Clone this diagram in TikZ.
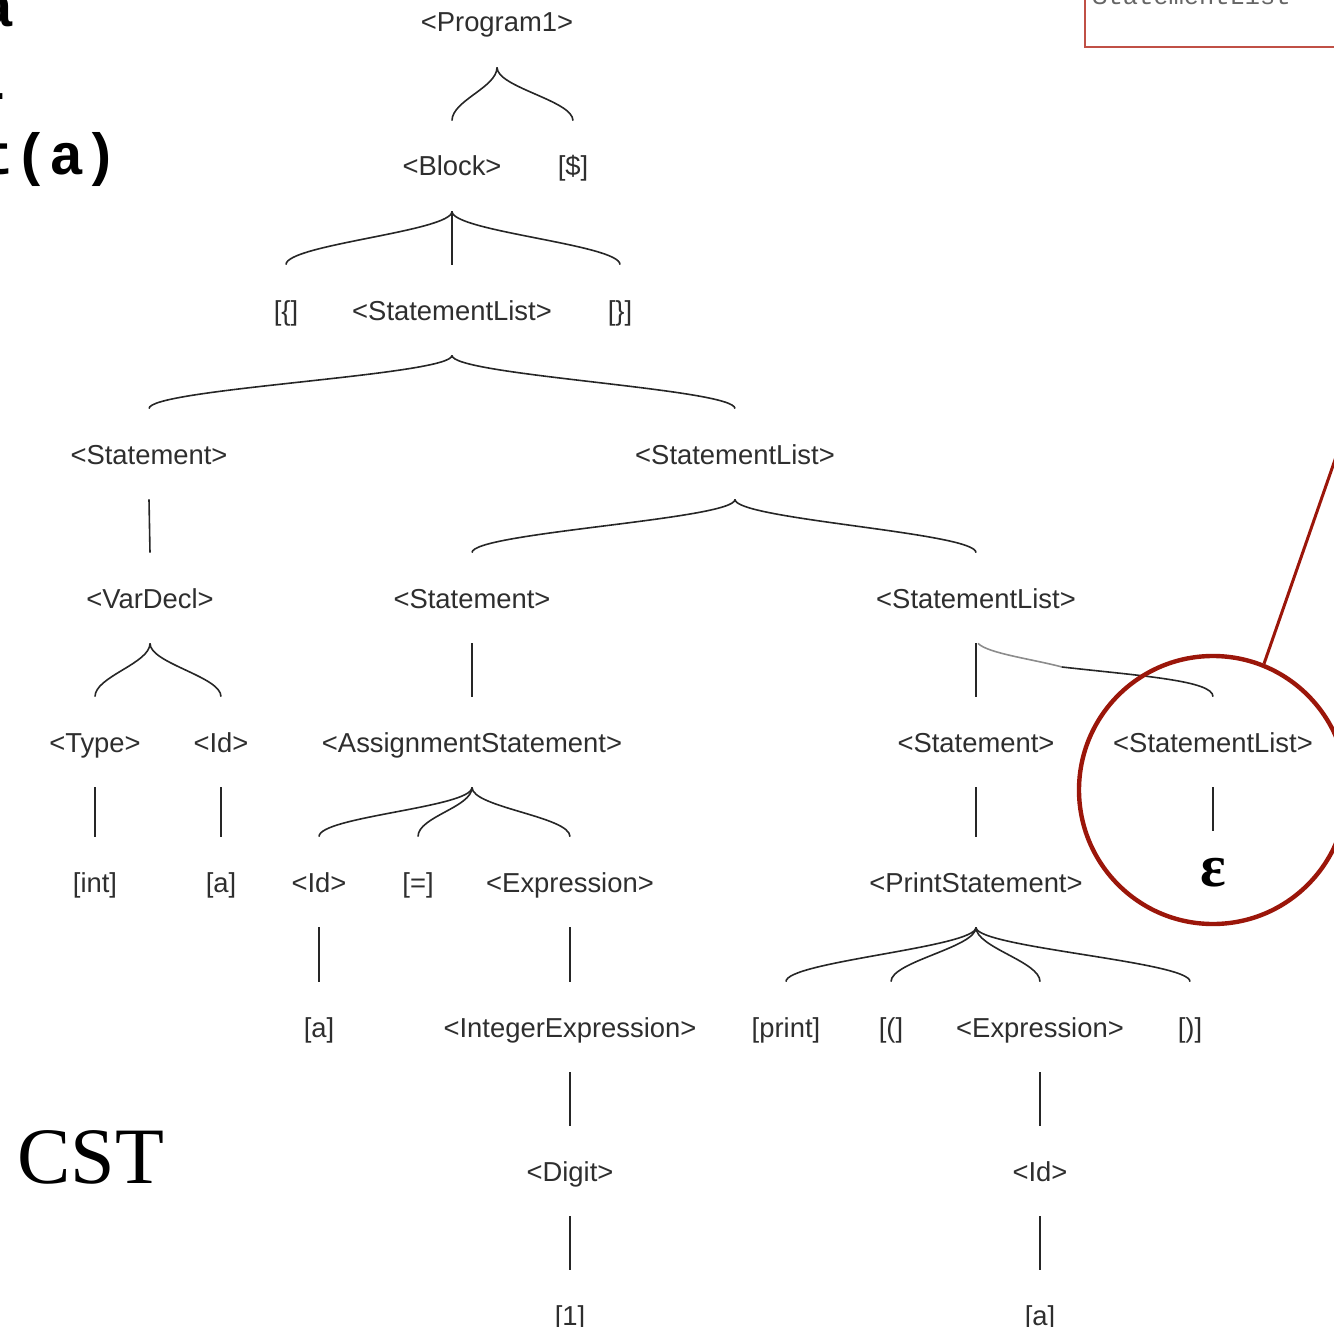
\documentclass[tikz,border=0pt]{standalone}
\usepackage{fontspec}
\setmainfont{Liberation Sans}
\newfontfamily\codefont{Liberation Mono}
\newfontfamily\serifont{Liberation Serif}
\definecolor{hlred}{RGB}{155,22,10}
\definecolor{boxred}{RGB}{192,80,70}
\tikzstyle{nt}=[inner sep=0pt,
                text=black!82,
                font=\fontsize{13.7}{16}\selectfont,
                text height=10pt,
                text depth=0pt,
                minimum height=45pt]
\tikzstyle{cn}=[draw=black!85,
                line width=0.8pt]
\tikzstyle{br}=[to path={.. controls +(0,20) and +(0,-20) .. (\tikztotarget)}]
\tikzstyle{code}=[inner sep=0pt,
                  anchor=base west,
                  font=\codefont\bfseries\fontsize{29}{30}\selectfont]
\tikzstyle{hl}=[shape=circle,
                draw=hlred,
                line width=2.2pt,
                inner sep=0pt,
                minimum size=134pt]

\begin{document}
\begin{tikzpicture}[x=0.5pt,y=-0.5pt]
\useasboundingbox (0,0) rectangle (1334,1327);

% source code (cut off at the left edge)
\node[code] (line1) at (-160,27)  {int a};
\node[code] (line2) at (-169,100) {a = 1};
\node[code] (line3) at (-160,175) {print(a)};

% note box (cut off at the top right)
\draw[boxred, line width=1pt] (1085,-20) rectangle (1360,47);
\node[anchor=base west, inner sep=0pt, text=black!60,
      font=\codefont\fontsize{12.7}{14}\selectfont] (notetxt) at (1092,5) {StatementList};

% tree nodes, row by row
\node[nt] (prog) at (497,22) {<Program1>};

\node[nt] (block)  at (452,166) {<Block>};
\node[nt] (dollar) at (573,166) {[\$]};

\node[nt] (lbrace) at (286,310) {[\{]};
\node[nt] (sl1)    at (452,310) {<StatementList>};
\node[nt] (rbrace) at (620,310) {[\}]};

\node[nt] (stmt1) at (149,454) {<Statement>};
\node[nt] (sl2)   at (735,454) {<StatementList>};

\node[nt] (vardecl) at (150,598) {<VarDecl>};
\node[nt] (stmt2)   at (472,598) {<Statement>};
\node[nt] (sl3)     at (976,598) {<StatementList>};

\node[nt] (type)   at (95,742)   {<Type>};
\node[nt] (id1)    at (221,742)  {<Id>};
\node[nt] (assign) at (472,742)  {<AssignmentStatement>};
\node[nt] (stmt3)  at (976,742)  {<Statement>};
\node[nt] (sl4)    at (1213,742) {<StatementList>};

\node[nt] (int)    at (95,882)  {[int]};
\node[nt] (a1)     at (221,882) {[a]};
\node[nt] (id2)    at (319,882) {<Id>};
\node[nt] (eq)     at (418,882) {[=]};
\node[nt] (expr1)  at (570,882) {<Expression>};
\node[nt] (prints) at (976,882) {<PrintStatement>};
\node[nt, text=black, font=\serifont\bfseries\fontsize{30}{32}\selectfont] (eps) at (1213,876) {ε};

\node[nt] (a2)      at (319,1027)  {[a]};
\node[nt] (intexpr) at (570,1027)  {<IntegerExpression>};
\node[nt] (printkw) at (786,1027)  {[print]};
\node[nt] (lpar)    at (891,1027)  {[(]};
\node[nt] (expr2)   at (1040,1027) {<Expression>};
\node[nt] (rpar)    at (1190,1027) {[)]};

\node[nt] (digit) at (570,1171)  {<Digit>};
\node[nt] (id3)   at (1040,1171) {<Id>};

\node[nt] (one) at (570,1315)  {[1]};
\node[nt] (a3)  at (1040,1315) {[a]};

% label
\node[anchor=base west, inner sep=0pt,
      font=\serifont\fontsize{40}{44}\selectfont] (cst) at (17,1183) {CST};

% branches
\path[cn] (prog.south) edge[br] (block.north) edge[br] (dollar.north)
          (block.south) edge[br] (lbrace.north) edge (sl1.north) edge[br] (rbrace.north)
          (sl1.south) edge[br] (stmt1.north) edge[br] (sl2.north)
          (stmt1.south) edge (vardecl.north)
          (sl2.south) edge[br] (stmt2.north) edge[br] (sl3.north)
          (vardecl.south) edge[br] (type.north) edge[br] (id1.north)
          (stmt2.south) edge (assign.north)
          (sl3.south) edge (stmt3.north)
          (type.south) edge (int.north)
          (id1.south) edge (a1.north)
          (assign.south) edge[br] (id2.north) edge[br] (eq.north) edge[br] (expr1.north)
          (stmt3.south) edge (prints.north)
          (sl4.south) edge (eps.north)
          (id2.south) edge (a2.north)
          (expr1.south) edge (intexpr.north)
          (prints.south) edge[br] (printkw.north) edge[br] (lpar.north)
                         edge[br] (expr2.north) edge[br] (rpar.north)
          (intexpr.south) edge (digit.north)
          (expr2.south) edge (id3.north)
          (digit.south) edge (one.north)
          (id3.south) edge (a3.north);

% hand drawn branch to the empty list
\coordinate (kink) at (1062,667);
\draw[black!45, line width=0.8pt] ([xshift=1pt]sl3.south) .. controls +(10,10) and +(-30,-8) .. (kink);
\draw[cn] (kink) .. controls +(80,9) and +(0,-16) .. (sl4.north);

% highlight
\node[hl] (ring) at (1213,790) {};
\coordinate (pointer) at (1352,411);
\draw[hlred, line width=1.5pt] (ring.68) -- (pointer);

\end{tikzpicture}
\end{document}
